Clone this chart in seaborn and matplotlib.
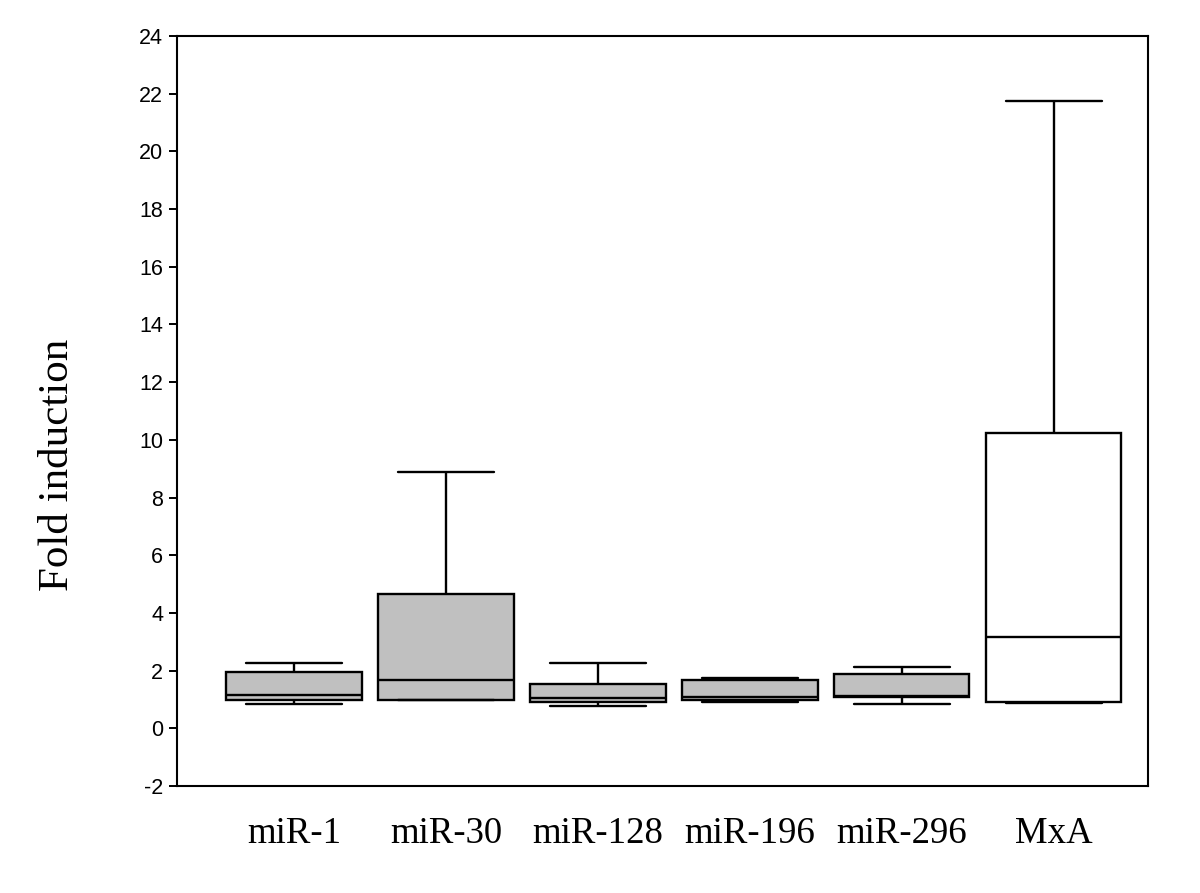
import numpy as np
import pandas as pd
import matplotlib
matplotlib.use("Agg")
import matplotlib.pyplot as plt
import seaborn as sns

#---- D A T A ----
# five values per group: min, Q1, median, Q3, max
genes = ["miR-1", "miR-30", "miR-128", "miR-196", "miR-296", "MxA"]
mir_1 = [0.84, 0.98, 1.15, 1.96, 2.26]
mir_30 = [0.98, 0.98, 1.67, 4.66, 8.87]
mir_128 = [0.77, 0.91, 1.06, 1.52, 2.26]
mir_196 = [0.92, 0.98, 1.10, 1.67, 1.73]
mir_296 = [0.84, 1.07, 1.12, 1.90, 2.12]
mxa = [0.87, 0.91, 3.18, 10.25, 21.74]
box_colors = ["#C0C0C0", "#C0C0C0", "#C0C0C0", "#C0C0C0", "#C0C0C0", "#FFFFFF"]
y_ticks = list(range(-2, 25, 2))

values = [mir_1, mir_30, mir_128, mir_196, mir_296, mxa]
df = pd.DataFrame({
    "gene": np.repeat(genes, [len(v) for v in values]),
    "fold": np.concatenate(values),
})

#---- P L O T ----
sns.set_theme(style="white")
plt.rcParams["font.family"] = ["Liberation Sans", "DejaVu Sans"]
plt.rcParams["text.color"] = "black"
plt.rcParams["axes.labelcolor"] = "black"
plt.rcParams["xtick.color"] = "black"
plt.rcParams["ytick.color"] = "black"

fig = plt.figure(figsize=(12, 8.93), dpi=100)
ax = fig.add_axes([0.1475, 0.1198, 0.8092, 0.8399])

box_w = 0.89
sns.boxplot(data=df, x="gene", y="fold", hue="gene", order=genes,
            palette=box_colors, legend=False, whis=(0, 100), width=box_w,
            saturation=1, linecolor="black", linewidth=1.7, showfliers=False,
            ax=ax)

# widen the whisker caps a bit (seaborn default is half the box width)
for line in ax.lines:
    xd = np.asarray(line.get_xdata(), dtype=float)
    yd = np.asarray(line.get_ydata(), dtype=float)
    if len(xd) == 2 and yd[0] == yd[1]:
        span = abs(xd[1] - xd[0])
        if 0 < span < box_w * 0.6:
            c = xd.mean()
            half = box_w * 0.71 / 2
            line.set_xdata([c - half, c + half])

ax.set_ylim(-2, 24)
ax.set_xlim(-0.77, 5.62)
ax.set_yticks(y_ticks)
ax.set_yticklabels([str(t) for t in y_ticks], fontsize=15.5)
ax.set_xticks(range(len(genes)))
ax.set_xticklabels(genes, fontsize=26.5, family=["Liberation Serif"])
ax.tick_params(axis="x", length=0, pad=22, labelcolor="black")
ax.tick_params(axis="y", direction="out", length=6, width=1.4,
               color="black", pad=4, left=True, labelcolor="black")
ax.set_xlabel("")
ax.set_ylabel("Fold induction", fontsize=31, family=["Liberation Serif"],
              color="black")
ax.yaxis.set_label_coords(-0.103, 0.428)

for side in ["top", "bottom", "left", "right"]:
    ax.spines[side].set_visible(True)
    ax.spines[side].set_color("black")
    ax.spines[side].set_linewidth(1.5)
ax.grid(False)

plt.savefig("out.png", dpi=100)
